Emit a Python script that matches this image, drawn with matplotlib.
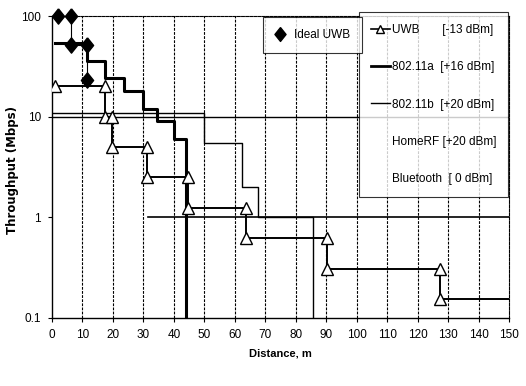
import matplotlib
matplotlib.use('Agg')
import matplotlib.pyplot as plt
from matplotlib.lines import Line2D

plt.rcParams['font.family'] = ['Liberation Sans', 'DejaVu Sans']

# Ideal UWB points
ideal_x = [2, 6.2, 6.2, 11.5, 11.5]
ideal_y = [100, 100, 52, 52, 23]

# UWB [-13 dBm] step curve
uwb_x = [1, 17.5, 17.5, 19.6, 19.6, 31.1, 31.1, 44.7, 44.7, 63.7, 63.7, 90.2, 90.2, 127.3, 127.3, 150]
uwb_y = [20, 20, 10, 10, 5, 5, 2.5, 2.5, 1.25, 1.25, 0.625, 0.625, 0.31, 0.31, 0.156, 0.156]

# 802.11a [+16 dBm]
a_x = [1, 11.5, 11.5, 17.5, 17.5, 23.7, 23.7, 30, 30, 34.5, 34.5, 40, 40, 44, 44]
a_y = [54, 54, 36, 36, 24, 24, 18, 18, 12, 12, 9, 9, 6, 6, 0.1]

# 802.11b [+20 dBm]
b_x = [0, 50, 50, 62.5, 62.5, 67.5, 67.5, 85.5, 85.5]
b_y = [11, 11, 5.5, 5.5, 2, 2, 1, 1, 0.1]

# HomeRF [+20 dBm]
hr_x = [0, 150]
hr_y = [10, 10]

# Bluetooth [0 dBm]
bt_x = [31.5, 150]
bt_y = [1, 1]

x_ticks = list(range(0, 151, 10))
y_ticks = [0.1, 1, 10, 100]
y_labels = ['0.1', '1', '10', '100']

# Excel-style diamond (taller than wide)
diamond = [(0, 1), (0.8, 0), (0, -1), (-0.8, 0), (0, 1)]

fig = plt.figure(figsize=(5.26, 3.86), dpi=100)
ax = fig.add_axes([0.0989, 0.1762, 0.8688, 0.7823])

for xv in x_ticks[1:-1]:
    ax.axvline(xv, color='black', lw=0.8, ls=(0, (2.5, 1.2)), zorder=1)

ax.plot(hr_x, hr_y, color='black', lw=1.0, zorder=2)
ax.plot(bt_x, bt_y, color='black', lw=1.2, zorder=2)
ax.plot(b_x, b_y, color='black', lw=1.0, zorder=2)
ax.plot(a_x, a_y, color='black', lw=2.2, zorder=3)
ax.plot(uwb_x, uwb_y, color='black', lw=1.4, marker='^', ms=8, mfc='white', mec='black', mew=1.0,
        markevery=list(range(len(uwb_x) - 1)), zorder=4)
ax.plot(ideal_x, ideal_y, color='black', lw=0.8, zorder=4)
ax.plot(ideal_x, ideal_y, ls='none', marker=diamond, ms=11, color='black', zorder=5, clip_on=False)

ax.set_yscale('log')
ax.set_xlim(0, 150)
ax.set_ylim(0.1, 100)
ax.set_xticks(x_ticks)
ax.set_yticks(y_ticks)
ax.set_yticklabels(y_labels)
ax.minorticks_off()
ax.tick_params(direction='out', length=3, width=0.8, labelsize=8.5, pad=5)

for s in ['top', 'right']:
    ax.spines[s].set_linestyle((0, (2.5, 1.2)))
    ax.spines[s].set_linewidth(0.8)
ax.spines['left'].set_linewidth(1.0)
ax.spines['bottom'].set_linewidth(1.0)

ax.set_xlabel('Distance, m', fontsize=8, fontweight='bold', labelpad=5)
ax.set_ylabel('Throughput (Mbps)', family='DejaVu Sans', fontsize=8.5, fontweight='bold')
ax.yaxis.set_label_coords(-0.072, 0.49)

# legends
leg1 = fig.legend(handles=[Line2D([], [], ls='none', marker=diamond, ms=10, color='black')],
                  labels=['Ideal UWB'], loc='upper left', bbox_to_anchor=(0.5, 0.956),
                  fontsize=8.5, frameon=True, fancybox=False, edgecolor='black',
                  handlelength=0.8, handletextpad=0.8, borderpad=1.0, borderaxespad=0)
leg1.get_frame().set_linewidth(0.8)
leg1.set_zorder(6)

h2 = [Line2D([], [], color='black', lw=1.2, marker='^', ms=6, mfc='white'),
      Line2D([], [], color='black', lw=2.0),
      Line2D([], [], color='black', lw=1.0),
      Line2D([], [], ls='none'),
      Line2D([], [], ls='none')]
l2 = ['UWB       [-13 dBm]', '802.11a  [+16 dBm]', '802.11b  [+20 dBm]',
      'HomeRF [+20 dBm]', 'Bluetooth  [ 0 dBm]']
leg2 = fig.legend(handles=h2, labels=l2, loc='upper left', bbox_to_anchor=(0.6825, 0.969),
                  fontsize=8.5, frameon=True, fancybox=False, edgecolor='black',
                  handlelength=1.6, handletextpad=0.2, labelspacing=2.15, borderpad=1.0,
                  borderaxespad=0)
leg2.get_frame().set_linewidth(0.8)
leg2.set_zorder(5)

fig.savefig('out.png', dpi=100)
